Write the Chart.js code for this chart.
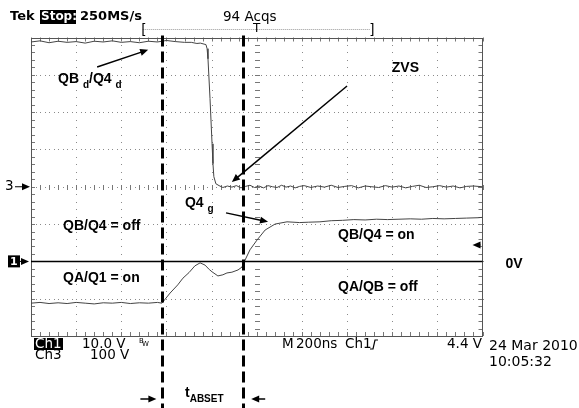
<!DOCTYPE html>
<html>
<head>
<meta charset="utf-8">
<script src="https://cdn.jsdelivr.net/npm/chart.js@4.4.1/dist/chart.umd.min.js"></script>
<style>
    body { margin: 0; background: #fff; }
    #scope_container { width: 579px; height: 408px; }
</style>
</head>
<body>
<div id="scope_container"><canvas id="scope_plot" width="579" height="408"></canvas></div>
<script>
// horizontal: 200 ns/div, 10 div, trigger at 0 ns
// vertical: 8 div; Ch3 100 V/div (ground at 0 div), Ch1 10 V/div (ground at -2 div)
const nsPerDiv = 200;
const ch3VoltsPerDiv = 100, ch3Ground = 0;
const ch1VoltsPerDiv = 10, ch1Ground = -2;
const trigLevel = 4.4; // V on Ch1

// Ch3: QBd/Q4d drain voltage
const ch3Time = [-1000, -960, -920, -880, -840, -800, -760, -720, -680, -640,
    -600, -560, -520, -480, -440, -400, -360, -320, -290, -265,
    -250, -238, -225, -220, -216, -207, -198, -194, -190, -181,
    -167, -150, -130, -110, -90, -70, -50, -30, -10, 10,
    30, 50, 70, 90, 110, 130, 150, 170, 190, 210,
    240, 270, 300, 330, 360, 390, 420, 450, 480, 510,
    540, 570, 600, 630, 660, 690, 720, 750, 780, 810,
    840, 870, 900, 930, 960, 1000];
const ch3Volts = [388, 391, 386, 390, 387, 389, 385, 390, 388, 391,
    387, 389, 386, 390, 388, 392, 389, 387, 387, 384,
    385, 383, 381, 370, 343, 236, 115, 62, 27, 8,
    3, -2, 2, -1, 3, -3, 1, 4, -2, 2,
    -3, 3, 0, -2, 4, -1, 2, -3, 1, 3,
    -2, 2, -1, 4, -2, 1, 3, -3, 2, 0,
    -2, 3, -1, 2, -3, 1, 4, -2, 0, 3,
    -1, 2, -3, 1, 2, 0];

// Ch1: Q4 gate voltage
const ch1Time = [-1000, -960, -920, -880, -840, -800, -760, -720, -680, -640,
    -600, -560, -520, -480, -440, -420, -384, -350, -327, -300,
    -274, -251, -229, -210, -198, -172, -150, -132, -110, -83,
    -65, -56, -30, 1, 37, 81, 134, 190, 230, 280,
    330, 380, 430, 480, 530, 580, 630, 680, 730, 780,
    830, 880, 930, 980, 1000];
const ch1Volts = [-11.2, -11.0, -11.3, -11.1, -11.3, -11.0, -11.2, -11.4, -11.1, -11.2,
    -11.0, -11.3, -11.1, -11.2, -11.0, -11.2, -8.5, -6.3, -4.5, -3.0,
    -1.2, -0.4, -1.0, -2.2, -2.8, -3.9, -3.6, -3.1, -2.9, -2.3,
    -1.5, -0.2, 3.1, 5.7, 8.4, 10.0, 10.6, 10.4, 10.5, 10.6,
    10.9, 11.0, 11.2, 11.1, 11.3, 11.2, 11.3, 11.4, 11.3, 11.5,
    11.4, 11.5, 11.6, 11.7, 11.8];

// cursor lines framing t_ABSET (ns)
const cursorTimes = [-418, -60];

const LABEL_FONT = 'bold 14px "Liberation Sans", Arial, sans-serif';
const SCOPE_FONT = '13.5px "DejaVu Sans", sans-serif';
const SCOPE_BOLD = 'bold 13px "DejaVu Sans", sans-serif';

function toDiv(volts, ground, perDiv) {
    return volts.map(v => ground + v / perDiv);
}

function arrow(ctx, x1, y1, x2, y2) {
    const ang = Math.atan2(y2 - y1, x2 - x1), len = 8, half = 3.5;
    ctx.beginPath();
    ctx.moveTo(x1, y1);
    ctx.lineTo(x2 - Math.cos(ang) * len * 0.8, y2 - Math.sin(ang) * len * 0.8);
    ctx.stroke();
    ctx.beginPath();
    ctx.moveTo(x2, y2);
    ctx.lineTo(x2 - Math.cos(ang) * len - Math.sin(ang) * half, y2 - Math.sin(ang) * len + Math.cos(ang) * half);
    ctx.lineTo(x2 - Math.cos(ang) * len + Math.sin(ang) * half, y2 - Math.sin(ang) * len - Math.cos(ang) * half);
    ctx.closePath();
    ctx.fill();
}

// text with subscripts: parts = [[text, isSub], ...]
function subText(ctx, x, y, parts, size) {
    let cx = x;
    parts.forEach(p => {
        ctx.font = p[1] ? `bold ${Math.round(size * 0.72)}px "Liberation Sans", Arial, sans-serif`
                        : `bold ${size}px "Liberation Sans", Arial, sans-serif`;
        ctx.fillText(p[0], cx, p[1] ? y + size * 0.42 : y);
        cx += ctx.measureText(p[0]).width;
    });
}

const graticule = {
    id: 'graticule',
    beforeDatasetsDraw(chart) {
        const ctx = chart.ctx, a = chart.chartArea, sx = chart.scales.x, sy = chart.scales.y;
        const X = t => Math.round(sx.getPixelForValue(t));
        const Y = d => Math.round(sy.getPixelForValue(d));
        ctx.save();
        ctx.fillStyle = '#8a8a8a';
        // dotted division lines
        for (let d = -3; d <= 3; d++) {
            if (d === 0) continue;
            for (let t = -1000; t <= 1000; t += 20) ctx.fillRect(X(t), Y(d), 1, 1);
        }
        for (let t = -800; t <= 800; t += nsPerDiv) {
            if (t === 0) continue;
            for (let k = -20; k <= 20; k++) ctx.fillRect(X(t), Y(k / 5), 1, 1);
        }
        // center axes with minor ticks
        for (let t = -1000; t <= 1000; t += 20) ctx.fillRect(X(t), Y(0), 1, 1);
        for (let k = -20; k <= 20; k++) ctx.fillRect(X(0), Y(k / 5), 1, 1);
        ctx.fillStyle = '#777';
        for (let t = -1000; t <= 1000; t += 40) {
            ctx.fillRect(X(t), Y(0) - 2, 1, 5);
            ctx.fillRect(X(t), a.top, 1, 4);
            ctx.fillRect(X(t), a.bottom - 4, 1, 4);
        }
        for (let k = -20; k <= 20; k++) {
            ctx.fillRect(X(0) - 2, Y(k / 5), 5, 1);
            ctx.fillRect(a.left, Y(k / 5), 4, 1);
            ctx.fillRect(a.right - 4, Y(k / 5), 4, 1);
        }
        ctx.strokeStyle = '#555';
        ctx.lineWidth = 1;
        ctx.strokeRect(Math.round(a.left) + 0.5, Math.round(a.top) + 0.5,
            Math.round(a.right - a.left) - 1, Math.round(a.bottom - a.top) - 1);
        ctx.restore();
    },
    afterDraw(chart) {
        const ctx = chart.ctx, a = chart.chartArea, sx = chart.scales.x, sy = chart.scales.y;
        const X = t => sx.getPixelForValue(t);
        const Y = d => sy.getPixelForValue(d);
        ctx.save();
        ctx.fillStyle = '#000';
        ctx.strokeStyle = '#000';
        ctx.textBaseline = 'middle';

        // Ch1 ground reference line
        ctx.lineWidth = 1.5;
        ctx.beginPath();
        ctx.moveTo(a.left, Y(ch1Ground));
        ctx.lineTo(a.right, Y(ch1Ground));
        ctx.stroke();

        // channel markers on the left
        ctx.fillRect(8, Y(ch1Ground) - 6, 12, 12);
        ctx.lineWidth = 1;
        arrow(ctx, 20, Y(ch1Ground), 29, Y(ch1Ground));
        ctx.fillStyle = '#fff';
        ctx.font = 'bold 11px "DejaVu Sans", sans-serif';
        ctx.fillText('1', 10, Y(ch1Ground) + 0.5);
        ctx.fillStyle = '#000';
        ctx.font = SCOPE_FONT;
        ctx.fillText('3', 5, Y(ch3Ground));
        arrow(ctx, 15, Y(ch3Ground), 30, Y(ch3Ground));

        // trigger level marker on the right
        const ty = Y(ch1Ground + trigLevel / ch1VoltsPerDiv);
        arrow(ctx, a.right - 2, ty, a.right - 10, ty);

        // cursors
        ctx.lineWidth = 3;
        ctx.setLineDash([11, 5]);
        cursorTimes.forEach(t => {
            ctx.beginPath();
            ctx.moveTo(Math.round(X(t)) + 0.5, a.top - 2);
            ctx.lineTo(Math.round(X(t)) + 0.5, 408);
            ctx.stroke();
        });
        ctx.setLineDash([]);

        // annotations
        ctx.lineWidth = 1.5;
        arrow(ctx, X(-707), Y(3.21), X(-481), Y(3.67));
        arrow(ctx, X(400), Y(2.70), X(-110), Y(0.13));
        arrow(ctx, X(-136), Y(-0.70), X(50), Y(-0.94));
        subText(ctx, X(-880), Y(2.89), [['QB ', false], ['d', true], ['/Q4 ', false], ['d', true]], 14);
        subText(ctx, X(-318), Y(-0.44), [['Q4 ', false], ['g', true]], 14);
        ctx.font = LABEL_FONT;
        ctx.fillText('ZVS', X(598), Y(3.18));
        ctx.fillText('QB/Q4 = off', X(-858), Y(-1.05));
        ctx.fillText('QA/Q1 = on', X(-858), Y(-2.45));
        ctx.fillText('QB/Q4 = on', X(360), Y(-1.29));
        ctx.fillText('QA/QB = off', X(360), Y(-2.69));
        ctx.fillText('0V', a.right + 23, Y(ch1Ground) + 3);

        // t_ABSET between the cursors
        ctx.lineWidth = 1.5;
        arrow(ctx, X(cursorTimes[0]) - 22, 399, X(cursorTimes[0]) - 6, 399);
        arrow(ctx, X(cursorTimes[1]) + 22, 399, X(cursorTimes[1]) + 8, 399);
        subText(ctx, 185, 393, [['t', false], ['ABSET', true]], 14);

        // scope header
        ctx.font = SCOPE_BOLD;
        ctx.fillText('Tek', 10, 17);
        ctx.fillRect(40, 10, 36, 14);
        ctx.fillStyle = '#fff';
        ctx.font = 'bold 12px "DejaVu Sans", sans-serif';
        ctx.fillText('Stop:', 41, 17);
        ctx.fillStyle = '#000';
        ctx.font = SCOPE_BOLD;
        ctx.fillText('250MS/s', 80, 17);
        ctx.font = SCOPE_FONT;
        ctx.fillText('94 Acqs', 223, 17);
        // record position bracket and trigger point
        ctx.strokeStyle = '#999';
        ctx.lineWidth = 1;
        ctx.setLineDash([1, 1]);
        ctx.beginPath();
        ctx.moveTo(X(-505), 29.5);
        ctx.lineTo(X(500), 29.5);
        ctx.stroke();
        ctx.setLineDash([]);
        ctx.fillText('[', X(-512), 30);
        ctx.fillText(']', X(498), 30);
        ctx.font = '12px "DejaVu Sans", sans-serif';
        ctx.textAlign = 'center';
        ctx.fillText('T', X(0), 29);
        ctx.textAlign = 'left';

        // scope status line
        ctx.font = SCOPE_FONT;
        ctx.fillRect(34, 338, 29, 12);
        ctx.fillStyle = '#fff';
        ctx.fillText('Ch1', 35, 344);
        ctx.fillStyle = '#000';
        ctx.fillText('10.0 V', 82, 344);
        ctx.fillText('Ch3', 35, 355);
        ctx.fillText('100 V', 90, 355);
        ctx.font = '7px "DejaVu Sans", sans-serif';
        ctx.fillText('B', 139, 341);
        ctx.fillText('W', 142, 344);
        ctx.font = SCOPE_FONT;
        ctx.fillText('M', 282, 344);
        ctx.fillText('200ns', 296, 344);
        ctx.fillText('Ch1', 345, 344);
        ctx.lineWidth = 1.2;
        ctx.strokeStyle = '#000';
        ctx.beginPath();
        ctx.moveTo(370, 349);
        ctx.lineTo(373, 349);
        ctx.lineTo(375, 340);
        ctx.lineTo(378, 340);
        ctx.stroke();
        ctx.fillText('4.4 V', 447, 344);
        ctx.font = '14px "DejaVu Sans", sans-serif';
        ctx.fillText('24 Mar 2010', 489, 346);
        ctx.fillText('10:05:32', 489, 362);
        ctx.restore();
    }
};

function createScopePlot() {
    const config = {
        type: 'line',
        data: {
            datasets: [{
                label: 'Ch3',
                data: ch3Time.map((t, i) => ({ x: t, y: toDiv(ch3Volts, ch3Ground, ch3VoltsPerDiv)[i] })),
                borderColor: '#444',
                borderWidth: 1,
                pointRadius: 0,
                tension: 0,
            }, {
                label: 'Ch1',
                data: ch1Time.map((t, i) => ({ x: t, y: toDiv(ch1Volts, ch1Ground, ch1VoltsPerDiv)[i] })),
                borderColor: '#444',
                borderWidth: 1,
                pointRadius: 0,
                tension: 0,
            }],
        },
        options: {
            responsive: false,
            animation: false,
            layout: {
                padding: { left: 31, right: 96.5, top: 37.5, bottom: 72 },
            },
            plugins: {
                legend: { display: false },
                tooltip: { enabled: false },
            },
            scales: {
                x: { type: 'linear', display: false, min: -5 * nsPerDiv, max: 5 * nsPerDiv },
                y: { type: 'linear', display: false, min: -4, max: 4 },
            },
        },
        plugins: [graticule],
    };
    window.scope_chart = new Chart(document.getElementById('scope_plot'), config);
}

createScopePlot();
</script>
</body>
</html>
